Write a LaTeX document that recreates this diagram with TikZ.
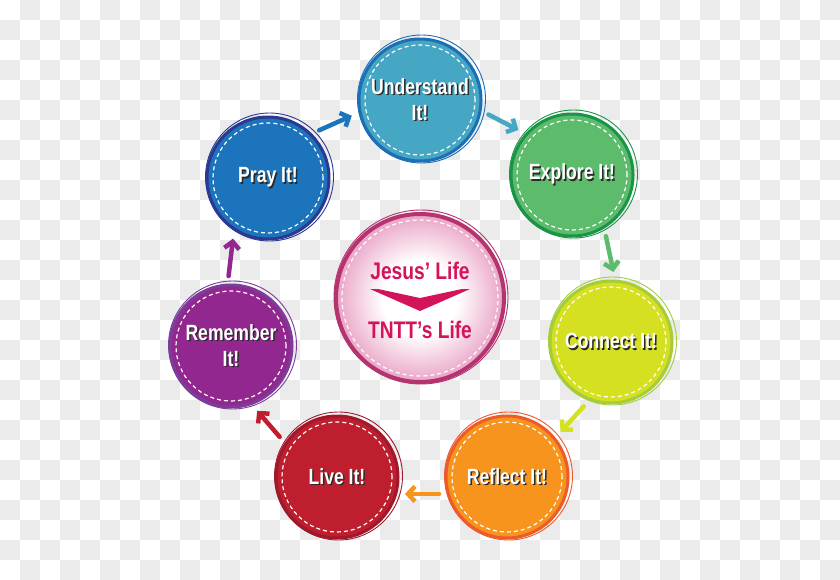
\documentclass[tikz,border=0pt]{standalone}
\usepackage{fontspec}
\usetikzlibrary{arrows.meta}
\newfontfamily\labfont{Liberation Sans}[FakeStretch=0.8]
\definecolor{chk}{HTML}{EBEBEB}
\definecolor{shcol}{HTML}{2A2A2A}
\definecolor{fUnder}{HTML}{46A7C5}\definecolor{bUnder}{HTML}{1C6FB4}
\definecolor{fExpl}{HTML}{5DBB6C}\definecolor{bExpl}{HTML}{1A9548}
\definecolor{fConn}{HTML}{D5E021}\definecolor{bConn}{HTML}{A5CD39}
\definecolor{fRefl}{HTML}{F7941E}\definecolor{bRefl}{HTML}{EE5B2A}
\definecolor{fLive}{HTML}{BE1E2D}\definecolor{bLive}{HTML}{A0182C}
\definecolor{fRem}{HTML}{92278F}\definecolor{bRem}{HTML}{7D3C98}
\definecolor{fPray}{HTML}{1C75BC}\definecolor{bPray}{HTML}{2B3990}
\definecolor{cPink}{HTML}{E9A2C5}\definecolor{bCtr}{HTML}{B5336F}
\definecolor{cText}{HTML}{D4145A}
\pgfdeclareradialshading{ctrshade}{\pgfpoint{0bp}{0bp}}{color(0bp)=(white); color(11bp)=(white); color(25bp)=(cPink); color(50bp)=(cPink)}
\newcommand\shtx[1]{\rlap{\kern1.5pt\raisebox{-1.5pt}{\textcolor{shcol}{#1}}}#1}
\tikzset{
  stage/.style={circle, minimum size=124pt, inner sep=0pt, outer sep=8pt, fill=#1,
    text=white, align=center, font=\labfont\bfseries\fontsize{22}{26}\selectfont},
  arr/.style={draw=#1, line width=4.5pt, line cap=round, line join=round,
    -{Straight Barb[length=7pt,width=15pt]}},
  ctrtext/.style={text=cText, font=\labfont\bfseries\fontsize{24}{26}\selectfont, inner sep=0pt}
}
\begin{document}
\begin{tikzpicture}[x=1pt,y=-1pt]
\useasboundingbox (0,0) rectangle (840,579);
% transparency checkerboard
\fill[white] (0,0) rectangle (840,579);
\foreach \i in {0,...,41}{\foreach \j in {0,...,28}{%
  \pgfmathtruncatemacro\p{mod(\i+\j,2)}%
  \ifnum\p=1 \fill[chk] (\i*20,\j*20) rectangle ++(20,20);\fi}}
% stages
\node[stage=fUnder] (under) at (420,100) {\shtx{Understand}\\\shtx{It!}};
\node[stage=fExpl]  (expl)  at (572,175) {\shtx{Explore It!}};
\node[stage=fConn]  (conn)  at (611,342) {\shtx{Connect It!}};
\node[stage=fRefl]  (refl)  at (507,477) {\shtx{Reflect It!}};
\node[stage=fLive]  (live)  at (337,477) {\shtx{Live It!}};
\node[stage=fRem]   (rem)   at (231,346) {\shtx{Remember}\\\shtx{It!}};
\node[stage=fPray]  (pray)  at (268,178) {\shtx{Pray It!}};
\foreach \n/\b in {under/bUnder,expl/bExpl,conn/bConn,refl/bRefl,live/bLive,rem/bRem,pray/bPray}{
  \draw[\b, line width=3pt] (\n.center) circle (61pt);
  \draw[\b, line width=0.9pt] ([shift={(1.5,-1)}]\n.center) circle (64pt);
  \draw[white, line width=1.2pt, dash pattern=on 4pt off 3pt] (\n.center) circle (55pt);
}
% centre
\node[circle, minimum size=170pt, inner sep=0pt, shading=ctrshade] (ctr) at (420,298) {};
\draw[bCtr, line width=4pt] (ctr.center) circle (84pt);
\draw[bCtr, line width=0.9pt] ([shift={(1,-1)}]ctr.center) circle (87pt);
\draw[white, line width=1.2pt, dash pattern=on 4pt off 3pt] (ctr.center) circle (78pt);
\node[ctrtext] (jl) at (420,271) {Jesus’ Life};
\node[ctrtext] (tl) at (420,330) {TNTT’s Life};
\fill[cText] (370,289) -- (378,289) -- (420,298) -- (462,289) -- (470,289) -- (420,311) -- cycle;
% connectors
\draw[arr=fPray]  (pray.43)  -- (under.193);
\draw[arr=fUnder] (under.-12) -- (expl.140);
\draw[arr=fExpl]  (expl.-61) -- (conn.88);
\draw[arr=fConn]  (conn.247) -- (refl.40);
\draw[arr=fRefl]  (refl.194) -- (live.-14);
\draw[arr=fLive]  (live.145) -- (rem.-68);
\draw[arr=fRem]   (rem.92)   -- (pray.240);
\end{tikzpicture}
\end{document}
